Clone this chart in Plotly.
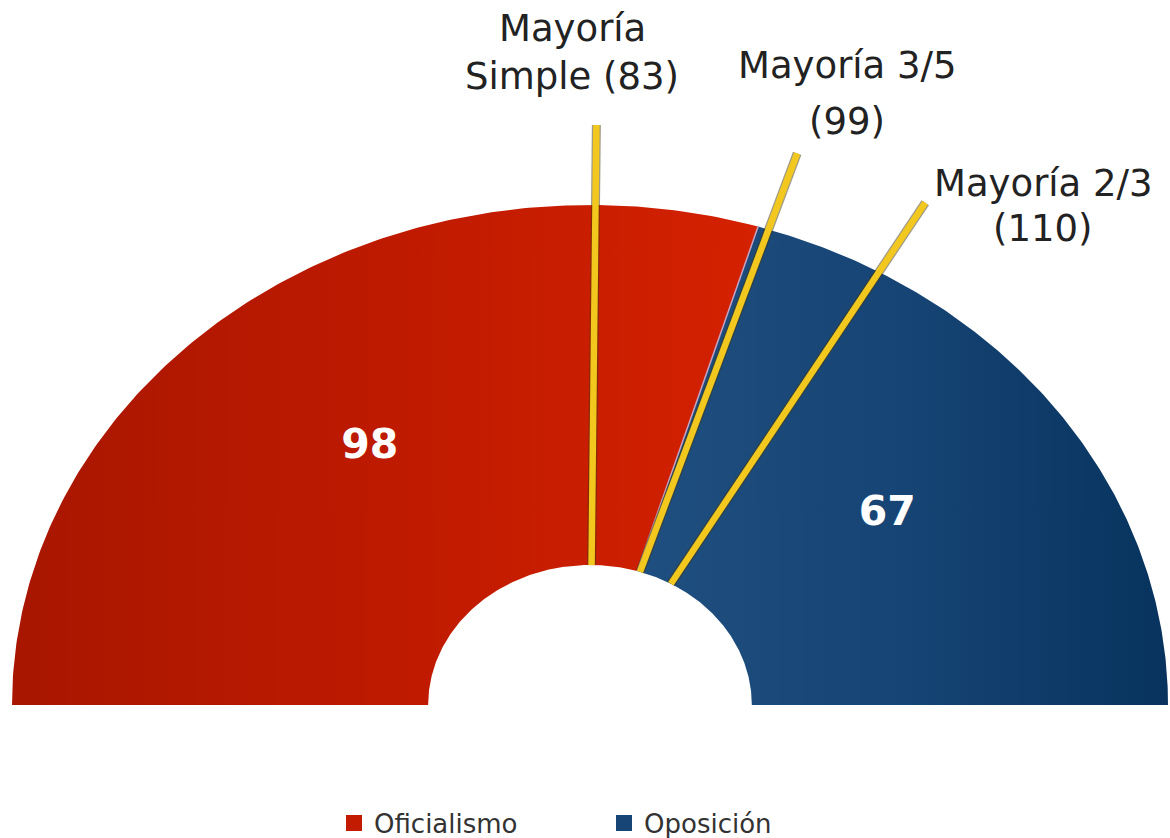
import math
import plotly.graph_objects as go

# ---- data ----
categories = ["Oficialismo", "Oposición"]
seats = [98, 67]
slice_colors = ["#C21B00", "#174676"]
slice_gradients = [
    [[0, "#A81600"], [0.6, "#C21B00"], [1, "#D42100"]],
    [[0, "#1F4F80"], [0.5, "#164474"], [1, "#07335E"]],
]
threshold_values = [83, 99, 110]
threshold_line1 = ["Mayoría", "Mayoría 3/5", "Mayoría 2/3"]
threshold_line2 = ["Simple (83)", "(99)", "(110)"]

# ---- geometry (styling) ----
TOTAL = sum(seats)
R_IN, R_OUT, R_LINE = 0.28, 1.0, 1.16
W, H = 1170, 838
CX, CY = 590, 705          # centre of the arc in pixels
SX, SY = 578, 500          # pixels per unit radius
FONT = "DejaVu Sans"


def ang(v):
    return math.pi * (1 - v / TOTAL)


fig = go.Figure()

# slices
cum = 0
for name, v, col, grad in zip(categories, seats, slice_colors, slice_gradients):
    a0, a1 = ang(cum), ang(cum + v)
    n = 200
    ts = [a0 + (a1 - a0) * i / n for i in range(n + 1)]
    xs = [R_OUT * math.cos(t) for t in ts] + [R_IN * math.cos(t) for t in reversed(ts)]
    ys = [R_OUT * math.sin(t) for t in ts] + [R_IN * math.sin(t) for t in reversed(ts)]
    fig.add_trace(go.Scatter(x=xs, y=ys, fill="toself", fillcolor=col, mode="lines",
                             fillgradient=dict(type="horizontal", colorscale=grad,
                                               start=min(xs), stop=max(xs)),
                             line=dict(width=0, color=col), hoverinfo="skip", showlegend=False))
    cum += v

# separator between slices
a = ang(seats[0])
fig.add_trace(go.Scatter(x=[R_IN * math.cos(a), R_OUT * math.cos(a)],
                         y=[R_IN * math.sin(a), R_OUT * math.sin(a)],
                         mode="lines", line=dict(color="#c8a2c0", width=1.5),
                         hoverinfo="skip", showlegend=False))

# value labels
cum = 0
lx, ly, lt = [], [], []
rm = (R_IN + R_OUT) / 2
for v in seats:
    a = ang(cum + v / 2)
    lx.append(rm * math.cos(a))
    ly.append(rm * math.sin(a))
    lt.append(str(v))
    cum += v
fig.add_trace(go.Scatter(x=lx, y=ly, mode="text", text=lt,
                         textfont=dict(family=FONT, size=41, color="white", weight="bold"),
                         hoverinfo="skip", showlegend=False))

# threshold lines
for v in threshold_values:
    a = ang(v)
    xs = [R_IN * math.cos(a), R_LINE * math.cos(a)]
    ys = [R_IN * math.sin(a), R_LINE * math.sin(a)]
    fig.add_trace(go.Scatter(x=xs, y=ys, mode="lines",
                             line=dict(color="rgba(70,55,10,0.5)", width=9),
                             hoverinfo="skip", showlegend=False))
    fig.add_trace(go.Scatter(x=xs, y=ys, mode="lines",
                             line=dict(color="#F2C81E", width=6.5),
                             hoverinfo="skip", showlegend=False))

# legend entries
for name, col in zip(categories, slice_colors):
    fig.add_trace(go.Scatter(x=[None], y=[None], mode="markers", name=name,
                             marker=dict(symbol="square", size=20, color=col)))

# threshold annotations (pixel positions converted to paper)
ann_x = [572, 847, 1043]
ann_y1 = [28, 65, 183]
ann_y2 = [76, 121, 228]
annotations = []
for t1, t2, x, y1, y2 in zip(threshold_line1, threshold_line2, ann_x, ann_y1, ann_y2):
    for t, y in ((t1, y1), (t2, y2)):
        annotations.append(dict(text=t, x=x / W, y=1 - y / H, xref="paper", yref="paper",
                                xanchor="center", yanchor="middle", showarrow=False,
                                font=dict(family=FONT, size=37, color="#222222")))

fig.update_layout(
    width=W, height=H,
    margin=dict(l=0, r=0, t=0, b=0, autoexpand=False),
    paper_bgcolor="white", plot_bgcolor="white",
    xaxis=dict(range=[-CX / SX, (W - CX) / SX], visible=False, fixedrange=True),
    yaxis=dict(range=[-(H - CY) / SY, CY / SY], visible=False, fixedrange=True),
    showlegend=True,
    legend=dict(orientation="h", x=334 / W, xanchor="left", y=(H - 823) / H, yanchor="middle",
                font=dict(family=FONT, size=26, color="#333333"),
                entrywidth=225, entrywidthmode="pixels", bgcolor="rgba(0,0,0,0)"),
    annotations=annotations,
)

fig.write_html("out.html", config={"displayModeBar": False},
               post_script="document.body.style.margin='0';")
